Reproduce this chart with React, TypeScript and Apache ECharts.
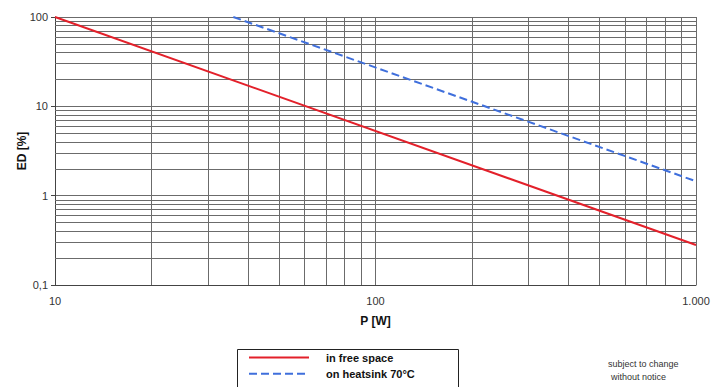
import React, { useEffect, useRef } from "react";
import * as echarts from "echarts";

const freeSpace: [number, number][] = [
  [10, 100],
  [1000, 0.28],
];
const heatsink: [number, number][] = [
  [36, 100],
  [1000, 1.45],
];
const xMinorGrid = [20, 30, 40, 50, 60, 70, 80, 90, 200, 300, 400, 500, 600, 700, 800, 900];
const yMinorGrid = [
  0.2, 0.3, 0.4, 0.5, 0.6, 0.7, 0.8, 0.9,
  2, 3, 4, 5, 6, 7, 8, 9,
  20, 30, 40, 50, 60, 70, 80, 90,
];
const xTickLabels: Record<number, string> = { 10: "10", 100: "100", 1000: "1.000" };
const yTickLabels: Record<number, string> = { 0.1: "0,1", 1: "1", 10: "10", 100: "100" };
const seriesNames = ["in free space", "on heatsink 70°C"];
const noteLines = ["subject to change", "without notice"];

const FONT = "Liberation Sans, Arial, sans-serif";
const GRID_COLOR = "#6b6b6b";

export default function App() {
  const ref = useRef<HTMLDivElement>(null);
  useEffect(() => {
    if (!ref.current) return;
    const chart = echarts.init(ref.current, null, { renderer: "svg" });
    const gridMarkLines = [
      ...xMinorGrid.map((v) => ({ xAxis: v })),
      ...yMinorGrid.map((v) => ({ yAxis: v })),
    ];
    chart.setOption({
      animation: false,
      backgroundColor: "#ffffff",
      grid: { left: 55, right: 32, top: 17, bottom: 102 },
      xAxis: {
        type: "log",
        logBase: 10,
        min: 10,
        max: 1000,
        interval: 1,
        name: "P [W]",
        nameLocation: "middle",
        nameGap: 30,
        nameTextStyle: { fontFamily: FONT, fontSize: 12, fontWeight: "bold", color: "#111" },
        axisLine: { show: true, lineStyle: { color: "#444", width: 1 } },
        axisTick: { show: false },
        axisLabel: {
          fontFamily: FONT,
          fontSize: 11,
          color: "#333",
          margin: 10,
          formatter: (v: number) => xTickLabels[Math.round(v)] ?? "",
        },
        splitLine: { show: true, lineStyle: { color: GRID_COLOR, width: 1 } },
      },
      yAxis: {
        type: "log",
        logBase: 10,
        min: 0.1,
        max: 100,
        interval: 1,
        name: "ED [%]",
        nameLocation: "middle",
        nameGap: 27,
        nameMoveOverlap: false,
        nameRotate: 90,
        nameTextStyle: { fontFamily: FONT, fontSize: 12, fontWeight: "bold", color: "#111" },
        axisLine: { show: true, lineStyle: { color: "#444", width: 1 } },
        axisTick: { show: true, length: 4, inside: false, lineStyle: { color: "#444" } },
        axisLabel: {
          fontFamily: FONT,
          fontSize: 11,
          color: "#333",
          margin: 7,
          formatter: (v: number) => {
            const key = [0.1, 1, 10, 100].find((k) => Math.abs(k - v) / k < 1e-6);
            return key !== undefined ? yTickLabels[key] : "";
          },
        },
        splitLine: { show: true, lineStyle: { color: GRID_COLOR, width: 1 } },
      },
      legend: {
        orient: "vertical",
        left: 248,
        top: 352,
        itemWidth: 60,
        itemHeight: 14,
        itemGap: 5,
        padding: 0,
        data: seriesNames,
        itemStyle: { opacity: 0 },
        textStyle: {
          fontFamily: FONT,
          fontSize: 11,
          fontWeight: "bold",
          color: "#111",
          padding: [0, 0, 0, 12],
        },
      },
      graphic: [
        {
          type: "rect",
          left: 235,
          top: 347,
          shape: { width: 221, height: 60 },
          style: { fill: "none", stroke: "#222", lineWidth: 1 },
          silent: true,
        },
        {
          type: "text",
          left: 608,
          top: 359,
          style: { text: noteLines[0], fontFamily: FONT, fontSize: 9, fill: "#333" },
        },
        {
          type: "text",
          left: 611,
          top: 372,
          style: { text: noteLines[1], fontFamily: FONT, fontSize: 9, fill: "#333" },
        },
      ],
      series: [
        {
          name: "grid",
          type: "line",
          data: [],
          silent: true,
          markLine: {
            silent: true,
            symbol: "none",
            label: { show: false },
            lineStyle: { color: GRID_COLOR, width: 1, type: "solid" },
            data: gridMarkLines,
          },
        },
        {
          name: seriesNames[0],
          type: "line",
          data: freeSpace,
          symbol: "none",
          z: 5,
          lineStyle: { color: "#e3202a", width: 2 },
          itemStyle: { color: "#e3202a" },
        },
        {
          name: seriesNames[1],
          type: "line",
          data: heatsink,
          symbol: "none",
          z: 5,
          lineStyle: { color: "#3f6fdc", width: 2, type: [8, 4] },
          itemStyle: { color: "#3f6fdc" },
        },
      ],
    });
    return () => chart.dispose();
  }, []);
  return <div ref={ref} style={{ width: 728, height: 387, position: "absolute", left: 0, top: 0 }} />;
}
